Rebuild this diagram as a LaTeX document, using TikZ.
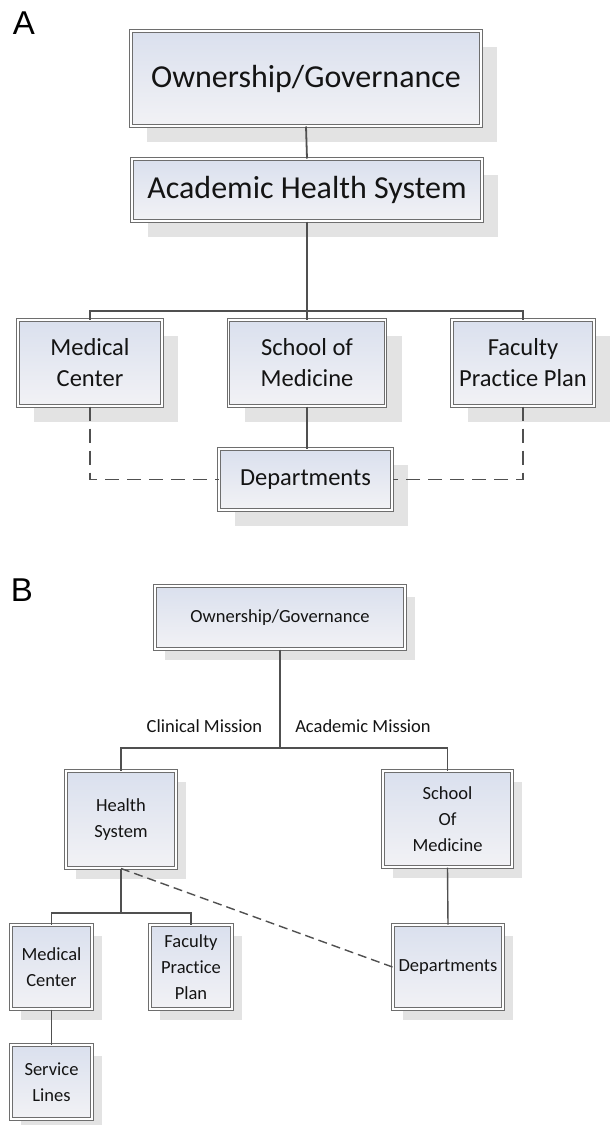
\documentclass[tikz,border=0pt]{standalone}
\usepackage{fontspec}
\setmainfont{Carlito}[Ligatures={NoCommon}]
\newfontfamily\panelfont{Liberation Sans}
\usetikzlibrary{shadows}

\definecolor{boxtop}{HTML}{DAE0EE}
\definecolor{boxbot}{HTML}{F2F2F5}
\definecolor{boxline}{HTML}{6E6E6E}
\definecolor{shadowgray}{HTML}{E3E3E3}
\definecolor{connline}{HTML}{505050}
\definecolor{inktext}{HTML}{141414}

\tikzset{
  orgbox/.style={draw=boxline, line width=1pt, double=white, double distance=1.7pt,
    top color=boxtop, bottom color=boxbot, inner sep=0pt, align=center, text=inktext},
  shadA/.style={drop shadow={shadow xshift=16pt, shadow yshift=-16pt, fill=shadowgray, opacity=1}},
  shadB/.style={drop shadow={shadow xshift=10pt, shadow yshift=-11pt, fill=shadowgray, opacity=1}},
  bigA/.style={font=\fontsize{32}{38}\selectfont},
  smallA/.style={font=\fontsize{24.5}{31}\selectfont},
  textB/.style={font=\fontsize{18.5}{26}\selectfont},
  linkA/.style={draw=connline, line width=1.8pt},
  linkB/.style={draw=connline, line width=1.4pt},
  dashA/.style={linkA, dash pattern=on 14pt off 8pt},
  dashB/.style={linkB, dash pattern=on 9pt off 5pt},
  panel/.style={font=\panelfont\fontsize{33}{38}\selectfont, inner sep=0pt, text=black},
}

\begin{document}
\begin{tikzpicture}[x=1pt, y=-1pt]
\path[use as bounding box] (0,0) rectangle (612,1125);

% ---------- panel A ----------
\node[panel] (labA) at (24,23) {A};

\node[orgbox, shadA, bigA, minimum width=350pt, minimum height=95pt] (oA) at (306,78.5) {Ownership/Governance};
\node[orgbox, shadA, bigA, minimum width=350pt, minimum height=62pt] (ahsA) at (307,190) {Academic Health System};
\node[orgbox, shadA, smallA, minimum width=144pt, minimum height=86pt] (mcA) at (90,363) {Medical\\Center};
\node[orgbox, shadA, smallA, minimum width=157pt, minimum height=86pt] (somA) at (307,363) {School of\\Medicine};
\node[orgbox, shadA, smallA, minimum width=142pt, minimum height=86pt] (fppA) at (523,363) {Faculty\\Practice Plan};
\node[orgbox, shadA, smallA, minimum width=173pt, minimum height=61pt] (depA) at (305.5,479.5) {Departments};

\coordinate (busA) at (307,311);
\draw[linkA] (oA.south) -- (ahsA.north);
\draw[linkA] (ahsA.south) -- (busA);
\draw[linkA] (mcA.north) |- (busA) -| (fppA.north);
\draw[linkA] (somA.north) -- (somA.north |- busA);
\draw[linkA] (somA.south) -- (depA.north -| somA.south);
\draw[dashA] (mcA.south) |- (depA.west);
\draw[dashA] (fppA.south) |- (depA.east);

% ---------- panel B ----------
\node[panel] (labB) at (22,590) {B};

\node[orgbox, shadB, textB, minimum width=250pt, minimum height=63pt] (oB) at (280,617.5) {Ownership/Governance};
\node[orgbox, shadB, textB, minimum width=110pt, minimum height=97pt] (hsB) at (121,819.5) {Health\\System};
\node[orgbox, shadB, textB, minimum width=129pt, minimum height=96pt] (somB) at (447.5,819) {School\\Of\\Medicine};
\node[orgbox, shadB, textB, minimum width=81pt, minimum height=84pt] (mcB) at (51.5,967) {Medical\\Center};
\node[orgbox, shadB, textB, minimum width=82pt, minimum height=84pt] (fppB) at (191,967) {Faculty\\Practice\\Plan};
\node[orgbox, shadB, textB, minimum width=110pt, minimum height=84pt] (depB) at (448,967) {Departments};
\node[orgbox, shadB, textB, minimum width=81pt, minimum height=74pt] (slB) at (51.5,1082) {Service\\Lines};

\node[textB, text=inktext, inner sep=0pt] (clin) at (204.5,726) {Clinical Mission};
\node[textB, text=inktext, inner sep=0pt] (acad) at (363,726) {Academic Mission};

\coordinate (busB) at (280,748);
\coordinate (subB) at (121,913);
\draw[linkB] (oB.south -| busB) -- (busB);
\draw[linkB] (hsB.north) |- (busB) -| (somB.north);
\draw[linkB] (hsB.south) -- (subB);
\draw[linkB] (mcB.north) |- (subB) -| (fppB.north);
\draw[linkB] (somB.south) -- (depB.north);
\draw[linkB] (mcB.south) -- (slB.north);
\draw[dashB] (hsB.south) -- (depB.west);
\end{tikzpicture}
\end{document}
